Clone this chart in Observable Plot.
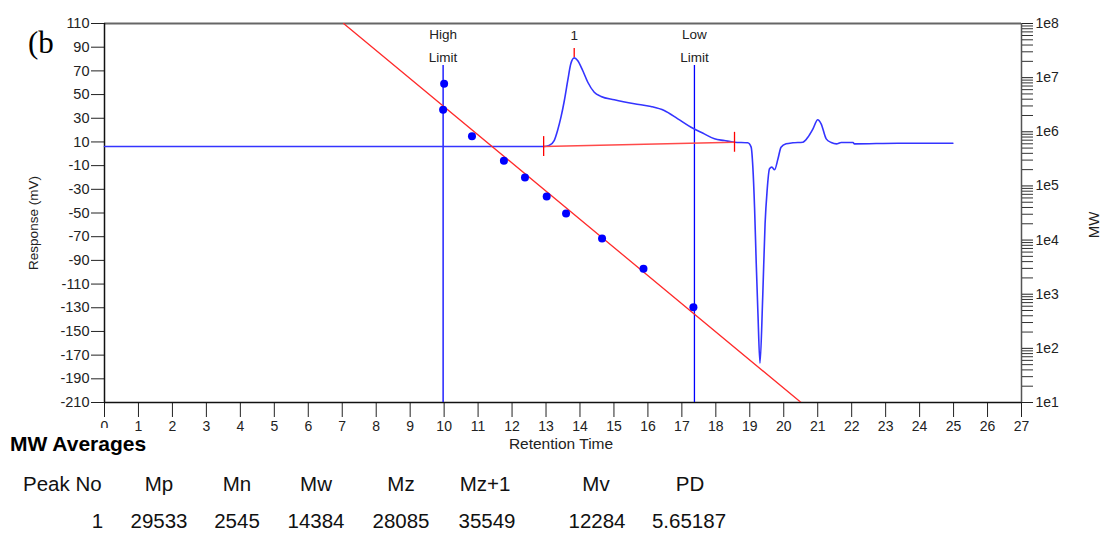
<!DOCTYPE html>
<html><head><meta charset="utf-8">
<script src="https://cdn.jsdelivr.net/npm/d3@7"></script>
<script src="https://cdn.jsdelivr.net/npm/@observablehq/plot@0.6"></script>
<style>
body{margin:0;background:#fff;font-family:"Liberation Sans",Arial,sans-serif;}
#wrap{position:relative;width:1102px;height:533px;overflow:hidden;background:#fff;}
#wrap svg{position:absolute;left:0;top:0;}
.t{position:absolute;white-space:nowrap;line-height:1;color:#111;}
</style></head><body>
<div id="wrap"></div>
<script>
// ---------- data ----------
const xTicks = d3.range(0, 28);
const responseTicks = [110, 90, 70, 50, 30, 10, -10, -30, -50, -70, -90, -110, -130, -150, -170, -190, -210];
const mwMajorTicks = [1e1, 1e2, 1e3, 1e4, 1e5, 1e6, 1e7, 1e8];
const mwMinorMultipliers = [2, 3, 4, 5, 6, 7, 8, 9];

const traceTime = [0, 12.93, 13.09, 13.24, 13.34, 13.44, 13.54, 13.64, 13.73, 13.83, 13.93, 14.08, 14.23, 14.42, 14.62, 15.01, 15.60, 16.09, 16.48, 16.88, 17.27, 17.66, 17.96, 18.25, 18.55, 18.94, 19.04, 19.09, 19.14, 19.19, 19.24, 19.30, 19.38, 19.45, 19.51, 19.58, 19.65, 19.73, 19.83, 19.92, 20.07, 20.27, 20.56, 20.71, 20.86, 21.00, 21.10, 21.25, 21.40, 21.55, 21.69, 22.04, 22.08, 23.36, 24.98];
const traceResponse = [6.1, 6.1, 7.0, 11.2, 19.7, 30.9, 45.0, 61.9, 76.0, 81.0, 78.8, 70.3, 60.4, 52.0, 48.4, 45.6, 42.2, 39.9, 36.5, 29.5, 22.4, 16.8, 12.6, 11.2, 9.8, 9.3, 5.6, -11.3, -45.1, -92.9, -135.1, -176.8, -121.1, -59.1, -31.0, -12.7, -11.3, -13.5, -4.2, 5.6, 8.4, 9.3, 9.8, 14.0, 21.1, 28.7, 25.3, 12.6, 9.5, 8.4, 9.5, 9.5, 8.4, 8.9, 8.9];

const calTime = [10.00, 9.97, 10.82, 11.76, 12.38, 13.02, 13.59, 14.65, 15.87, 17.34];
const calMW = [7.69e6, 2.55e6, 8.28e5, 2.91e5, 1.43e5, 6.37e4, 3.10e4, 1.07e4, 2.94e3, 575];
const fitTime = [7.04, 20.51];
const fitMW = [1e8, 1e1];

const limitTime = [9.97, 17.37];
const limitNames = ["High\nLimit", "Low\nLimit"];
const limitTop = 74.5;
const limitLabelResponse = 93.5;

const peakTime = 13.83;
const peakApex = 81.3;
const peakLabel = "1";
const peakLabelResponse = 100;

const baselineTime = [12.93, 18.55];
const baselineResponse = [6.1, 9.7];

const tableHeader = ["Peak No", "Mp", "Mn", "Mw", "Mz", "Mz+1", "Mv", "PD"];
const tableValues = ["1", "29533", "2545", "14384", "28085", "35549", "12284", "5.65187"];

// ---------- layout ----------
const W = 1102, H = 460;
const common = {
  width: W, height: H, marginLeft: 104, marginRight: 81, marginTop: 23, marginBottom: 58,
  style: {background: "none", fontFamily: "'Liberation Sans', Arial, sans-serif", fontSize: "14px", color: "#222", overflow: "visible"}
};
const mwMinorTicks = mwMajorTicks.slice(0, -1).flatMap(d => mwMinorMultipliers.map(m => d * m));

const plotA = Plot.plot({
  ...common,
  x: {domain: [0, 27]},
  y: {domain: [-210, 110]},
  marks: [
    Plot.ruleY([110], {stroke: "#666", strokeWidth: 2}),
    Plot.axisX(xTicks, {tickSize: 15, tickPadding: 4, label: null, stroke: "#222", fill: "#222", fontSize: 14, tickFormat: d => String(d)}),
    Plot.axisY(responseTicks, {anchor: "left", tickSize: 13, tickPadding: 2, label: null, stroke: "#222", fill: "#222", fontSize: 14.5, tickFormat: d => String(d)}),
    Plot.ruleX([0], {stroke: "#111", strokeWidth: 1.5}),
    Plot.ruleY([-210], {stroke: "#111", strokeWidth: 1.5}),
    Plot.ruleX(limitTime, {x: d => d, y1: -210, y2: limitTop, stroke: "blue", strokeWidth: 1.3}),
    Plot.text(limitTime, {x: d => d, y: limitLabelResponse, text: (d, i) => limitNames[i], lineHeight: 1.75, fontSize: 13.5, fill: "#222"}),
    Plot.line(traceTime, {x: d => d, y: (d, i) => traceResponse[i], stroke: "#3434ff", strokeWidth: 1.6, curve: "monotone-x"}),
    Plot.line(baselineTime, {x: d => d, y: (d, i) => baselineResponse[i], stroke: "#ff4a4a", strokeWidth: 1.5}),
    Plot.ruleX(baselineTime, {x: d => d, y1: (d, i) => baselineResponse[i] - 8.4, y2: (d, i) => baselineResponse[i] + 8.4, stroke: "red", strokeWidth: 1.3}),
    Plot.ruleX([peakTime], {x: d => d, y1: peakApex, y2: peakApex + 7.6, stroke: "red", strokeWidth: 1.3}),
    Plot.text([peakLabel], {x: peakTime, y: peakLabelResponse, text: d => d, fontSize: 13.5, fill: "#222"}),
    Plot.text(["Retention Time"], {frameAnchor: "bottom", dy: 46, dx: -2, text: d => d, fontSize: 15.5, fill: "#222"}),
    Plot.text(["Response (mV)"], {frameAnchor: "left", textAnchor: "middle", dx: -71, dy: 10, rotate: -90, text: d => d, fontSize: 13.5, fill: "#222"})
  ]
});

const plotB = Plot.plot({
  ...common,
  x: {domain: [0, 27], axis: null},
  y: {type: "log", domain: [1e1, 1e8]},
  marks: [
    Plot.ruleX([27], {stroke: "#555", strokeWidth: 1.5}),
    Plot.axisY(mwMinorTicks, {anchor: "right", tickSize: 11, fill: "none", label: null, stroke: "#333"}),
    Plot.axisY(mwMajorTicks, {anchor: "right", tickSize: 11, tickPadding: 3, tickFormat: d => "1e" + Math.round(Math.log10(d)), label: null, stroke: "#222", fill: "#222", fontSize: 14}),
    Plot.line(fitTime, {x: d => d, y: (d, i) => fitMW[i], stroke: "#ff2a2a", strokeWidth: 1.3, clip: true}),
    Plot.dot(calTime, {x: d => d, y: (d, i) => calMW[i], r: 4, fill: "blue"}),
    Plot.text(["MW"], {frameAnchor: "right", textAnchor: "middle", dx: 73, dy: 12, rotate: -90, text: d => d, fontSize: 15, fill: "#222"})
  ]
});

const wrap = document.getElementById("wrap");
wrap.appendChild(plotA);
wrap.appendChild(plotB);

function addText(txt, css) {
  const d = document.createElement("div");
  d.className = "t";
  d.textContent = txt;
  Object.assign(d.style, css);
  wrap.appendChild(d);
  return d;
}
addText("(b", {left: "28px", top: "27px", fontSize: "31px", fontFamily: "'Liberation Serif','Times New Roman',serif", color: "#000"});
addText("MW Averages", {left: "0px", top: "428px", paddingTop: "5px", paddingLeft: "10px", width: "112px", background: "#fff", fontSize: "21px", fontWeight: "bold", color: "#000"});

const headerX = [null, 159, 237, 316, 401, 485, 596, 690];
const valueX = [97.5, 159, 237, 316, 401, 487, 597, 689];
tableHeader.forEach((h, i) => {
  if (i === 0) addText(h, {left: "23px", top: "474px", fontSize: "20.5px"});
  else addText(h, {left: headerX[i] + "px", top: "474px", fontSize: "20.5px", transform: "translateX(-50%)"});
});
tableValues.forEach((v, i) => {
  addText(v, {left: valueX[i] + "px", top: "511px", fontSize: "20.5px", transform: "translateX(-50%)"});
});
</script>
</body></html>
